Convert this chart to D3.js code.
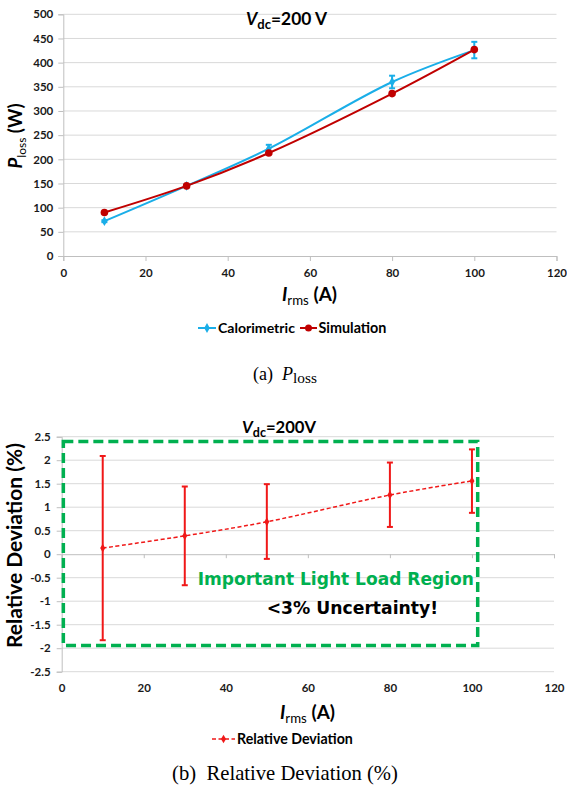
<!DOCTYPE html>
<html>
<head>
<meta charset="utf-8">
<script src="https://cdn.jsdelivr.net/npm/d3@7"></script>
<style>
  html, body { margin: 0; padding: 0; background: #fff; }
  svg { display: block; }
</style>
</head>
<body>
<svg id="chart" width="567" height="793"></svg>
<script>
// ---------- DATA ----------
const currents = [10, 30, 50, 80, 100];            // I_rms (A)
const calorimetric = [72, 145, 222, 360, 426];      // P_loss (W)
const calorimetricErr = [2, 3, 8, 13, 17];          // +/- (W)
const simulation = [90, 145, 213, 336, 427];        // P_loss (W)
const relDeviation = [0.13, 0.39, 0.69, 1.26, 1.56];       // %
const relErrLow = [-1.83, -0.66, -0.10, 0.58, 0.88];        // %
const relErrHigh = [2.09, 1.44, 1.49, 1.95, 2.23];          // %
const xTicks = [0, 20, 40, 60, 80, 100, 120];
const yTicksTop = [0, 50, 100, 150, 200, 250, 300, 350, 400, 450, 500];
const yTicksBottom = [-2.5, -2, -1.5, -1, -0.5, 0, 0.5, 1, 1.5, 2, 2.5];
const legendTop = ["Calorimetric", "Simulation"];
const legendBottom = ["Relative Deviation"];
const regionText = ["Important Light Load Region", "<3% Uncertainty!"];
const regionBox = {x0: 0.4, x1: 101.4, y0: -1.94, y1: 2.4};

// ---------- STYLE ----------
const SANS = "Lato, 'Open Sans', sans-serif";
const VERD = "'DejaVu Sans', Verdana, sans-serif";
const SERIF = "'Liberation Serif', 'DejaVu Serif', serif";
const cBlue = "#1AAEE8", cDark = "#C00000", cRed = "#F01818", cGreen = "#00B050";
const gridC = "#D9D9D9", axisC = "#BFBFBF", tickTxt = "#1a1a1a";

const svg = d3.select("#chart");

function fitWidth(sel, target) {
  const w = sel.node().getComputedTextLength();
  const fs = parseFloat(sel.attr("font-size"));
  sel.attr("font-size", fs * target / w);
}

// ================= TOP CHART =================
const xT = d3.scaleLinear().domain([0, 120]).range([63.3, 556.5]);
const yT = d3.scaleLinear().domain([0, 500]).range([256, 14.3]);
const gT = svg.append("g");

// gridlines
gT.selectAll(".grid").data(yTicksTop.filter(d => d > 0)).join("line")
  .attr("x1", xT(0)).attr("x2", xT(120))
  .attr("y1", d => yT(d)).attr("y2", d => yT(d))
  .attr("stroke", gridC).attr("stroke-width", 1);

// axes
const axLeftT = gT.append("g").attr("transform", `translate(${xT(0)},0)`)
  .call(d3.axisLeft(yT).tickValues(yTicksTop).tickSize(5).tickPadding(5));
const axBotT = gT.append("g").attr("transform", `translate(0,${yT(0)})`)
  .call(d3.axisBottom(xT).tickValues(xTicks).tickSize(5).tickPadding(8));
[axLeftT, axBotT].forEach(a => {
  a.select(".domain").attr("stroke", axisC);
  a.selectAll(".tick line").attr("stroke", axisC);
  a.selectAll("text").attr("font-family", SANS).attr("font-weight", "bold")
    .attr("font-size", 11.5).attr("fill", tickTxt);
});

// lines
const calPts = currents.map((c, i) => [c, calorimetric[i]]);
const simPts = currents.map((c, i) => [c, simulation[i]]);
const lineGen = d3.line().x(d => xT(d[0])).y(d => yT(d[1])).curve(d3.curveCatmullRom.alpha(0.5));
gT.append("path").attr("d", lineGen(calPts)).attr("fill", "none").attr("stroke", cBlue).attr("stroke-width", 2);
gT.append("path").attr("d", lineGen(simPts)).attr("fill", "none").attr("stroke", cDark).attr("stroke-width", 2);

// calorimetric error bars
const ebT = gT.selectAll(".ebT").data(currents.map((c, i) => ({c, lo: calorimetric[i] - calorimetricErr[i], hi: calorimetric[i] + calorimetricErr[i]})))
  .join("g").attr("stroke", cBlue).attr("stroke-width", 2);
ebT.append("line").attr("x1", d => xT(d.c)).attr("x2", d => xT(d.c)).attr("y1", d => yT(d.lo)).attr("y2", d => yT(d.hi));
ebT.append("line").attr("x1", d => xT(d.c) - 3).attr("x2", d => xT(d.c) + 3).attr("y1", d => yT(d.lo)).attr("y2", d => yT(d.lo));
ebT.append("line").attr("x1", d => xT(d.c) - 3).attr("x2", d => xT(d.c) + 3).attr("y1", d => yT(d.hi)).attr("y2", d => yT(d.hi));

// markers
const diamond = d3.symbol().type(d3.symbolDiamond).size(28);
gT.selectAll(".mc").data(calPts).join("path").attr("d", diamond)
  .attr("transform", d => `translate(${xT(d[0])},${yT(d[1])})`).attr("fill", cBlue);
gT.selectAll(".ms").data(simPts).join("circle")
  .attr("cx", d => xT(d[0])).attr("cy", d => yT(d[1])).attr("r", 3.8).attr("fill", cDark);

// title
const tT = svg.append("text").attr("x", 286.5).attr("y", 25).attr("text-anchor", "middle")
  .attr("font-family", SANS).attr("font-weight", "bold").attr("font-size", 16).attr("fill", "#000");
tT.append("tspan").attr("font-style", "italic").text("V");
tT.append("tspan").attr("font-size", "75%").attr("dy", 4).text("dc");
tT.append("tspan").attr("dy", -4).text("=200 V");
fitWidth(tT, 81);

// x label
const xlT = svg.append("text").attr("x", 309.5).attr("y", 301).attr("text-anchor", "middle")
  .attr("font-family", SANS).attr("font-weight", "bold").attr("font-size", 17).attr("fill", "#000");
xlT.append("tspan").attr("font-style", "italic").text("I");
xlT.append("tspan").attr("font-size", "70%").attr("font-weight", "normal").attr("dy", 4).text("rms");
xlT.append("tspan").attr("dy", -4).text(" (A)");
fitWidth(xlT, 55);

// y label
const ylT = svg.append("text").attr("transform", "translate(21.5,136) rotate(-90)").attr("text-anchor", "middle")
  .attr("font-family", SANS).attr("font-weight", "bold").attr("font-size", 19).attr("fill", "#000");
ylT.append("tspan").attr("font-style", "italic").text("P");
ylT.append("tspan").attr("font-size", "65%").attr("font-weight", "normal").attr("dy", 4).text("loss");
ylT.append("tspan").attr("dy", -4).text(" (W)");
fitWidth(ylT, 65);

// legend
const legT = svg.append("g");
const legItems = [
  {name: legendTop[0], x0: 198, x1: 216, tx: 218, tw: 77, color: cBlue, mark: "diamond"},
  {name: legendTop[1], x0: 300, x1: 317, tx: 318.5, tw: 68, color: cDark, mark: "circle"}
];
legItems.forEach(it => {
  legT.append("line").attr("x1", it.x0).attr("x2", it.x1).attr("y1", 328).attr("y2", 328)
    .attr("stroke", it.color).attr("stroke-width", 2);
  if (it.mark === "diamond") {
    legT.append("path").attr("d", diamond).attr("transform", `translate(${(it.x0 + it.x1) / 2},328)`).attr("fill", it.color);
  } else {
    legT.append("circle").attr("cx", (it.x0 + it.x1) / 2).attr("cy", 328).attr("r", 3.5).attr("fill", it.color);
  }
  const t = legT.append("text").attr("x", it.tx).attr("y", 332.5).attr("font-family", SANS)
    .attr("font-weight", "bold").attr("font-size", 13).attr("fill", "#000").text(it.name);
  fitWidth(t, it.tw);
});

// caption (a)
const capA = svg.append("text").attr("x", 285).attr("y", 380).attr("text-anchor", "middle")
  .attr("font-family", SERIF).attr("font-size", 18).attr("fill", "#000");
capA.append("tspan").text("(a)\u2002");
capA.append("tspan").attr("font-style", "italic").text("P");
capA.append("tspan").attr("font-size", "85%").attr("dy", 3).text("loss");
fitWidth(capA, 64);

// ================= BOTTOM CHART =================
const xB = d3.scaleLinear().domain([0, 120]).range([61.7, 554]);
const yB = d3.scaleLinear().domain([-2.5, 2.5]).range([671.7, 436.7]);
const gB = svg.append("g");

gB.selectAll(".gridB").data(yTicksBottom.filter(d => d !== 0)).join("line")
  .attr("x1", xB(0)).attr("x2", xB(120))
  .attr("y1", d => yB(d)).attr("y2", d => yB(d))
  .attr("stroke", gridC).attr("stroke-width", 1);

// left axis
const axLeftB = gB.append("g").attr("transform", `translate(${xB(0)},0)`)
  .call(d3.axisLeft(yB).tickValues(yTicksBottom).tickSize(5).tickPadding(6).tickFormat(d => String(d)));
// x axis on zero line (ticks only) + labels at bottom
const axZeroB = gB.append("g").attr("transform", `translate(0,${yB(0)})`)
  .call(d3.axisBottom(xB).tickValues(xTicks).tickSize(4).tickFormat(""));
const axLabB = gB.append("g").attr("transform", `translate(0,${yB(-2.5)})`)
  .call(d3.axisBottom(xB).tickValues(xTicks).tickSize(0).tickPadding(12));
axLabB.select(".domain").remove();
[axLeftB, axZeroB].forEach(a => {
  a.select(".domain").attr("stroke", axisC);
  a.selectAll(".tick line").attr("stroke", axisC);
});
[axLeftB, axLabB].forEach(a => {
  a.selectAll("text").attr("font-family", SANS).attr("font-weight", "bold")
    .attr("font-size", 11.5).attr("fill", tickTxt);
});

// green region box
gB.append("rect")
  .attr("x", xB(regionBox.x0)).attr("y", yB(regionBox.y1))
  .attr("width", xB(regionBox.x1) - xB(regionBox.x0)).attr("height", yB(regionBox.y0) - yB(regionBox.y1))
  .attr("fill", "none").attr("stroke", cGreen).attr("stroke-width", 3.5).attr("stroke-dasharray", "10,5");

// relative deviation line (dashed)
const relPts = currents.map((c, i) => [c, relDeviation[i]]);
const lineB = d3.line().x(d => xB(d[0])).y(d => yB(d[1])).curve(d3.curveCatmullRom.alpha(0.5));
gB.append("path").attr("d", lineB(relPts)).attr("fill", "none").attr("stroke", cRed)
  .attr("stroke-width", 1.5).attr("stroke-dasharray", "4,2.5");

// error bars
const ebB = gB.selectAll(".ebB").data(currents.map((c, i) => ({c, lo: relErrLow[i], hi: relErrHigh[i]})))
  .join("g").attr("stroke", cRed).attr("stroke-width", 2);
ebB.append("line").attr("x1", d => xB(d.c)).attr("x2", d => xB(d.c)).attr("y1", d => yB(d.lo)).attr("y2", d => yB(d.hi));
ebB.append("line").attr("x1", d => xB(d.c) - 3).attr("x2", d => xB(d.c) + 3).attr("y1", d => yB(d.lo)).attr("y2", d => yB(d.lo));
ebB.append("line").attr("x1", d => xB(d.c) - 3).attr("x2", d => xB(d.c) + 3).attr("y1", d => yB(d.hi)).attr("y2", d => yB(d.hi));

const diamondS = d3.symbol().type(d3.symbolDiamond).size(22);
gB.selectAll(".mr").data(relPts).join("path").attr("d", diamondS)
  .attr("transform", d => `translate(${xB(d[0])},${yB(d[1])})`).attr("fill", cRed);

// region texts
const rt1 = svg.append("text").attr("x", 197.7).attr("y", 585).attr("font-family", VERD)
  .attr("font-weight", "bold").attr("font-size", 18).attr("fill", cGreen).text(regionText[0]);
fitWidth(rt1, 276.6);
const rt2 = svg.append("text").attr("x", 266.7).attr("y", 614).attr("font-family", VERD)
  .attr("font-weight", "bold").attr("font-size", 18).attr("fill", "#000").text(regionText[1]);
fitWidth(rt2, 171.6);

// title bottom
const tB = svg.append("text").attr("x", 279).attr("y", 433).attr("text-anchor", "middle")
  .attr("font-family", SANS).attr("font-weight", "bold").attr("font-size", 16).attr("fill", "#000");
tB.append("tspan").attr("font-style", "italic").text("V");
tB.append("tspan").attr("font-size", "75%").attr("dy", 4).text("dc");
tB.append("tspan").attr("dy", -4).text("=200V");
fitWidth(tB, 74);

// x label bottom
const xlB = svg.append("text").attr("x", 307.5).attr("y", 719).attr("text-anchor", "middle")
  .attr("font-family", SANS).attr("font-weight", "bold").attr("font-size", 17).attr("fill", "#000");
xlB.append("tspan").attr("font-style", "italic").text("I");
xlB.append("tspan").attr("font-size", "70%").attr("font-weight", "normal").attr("dy", 4).text("rms");
xlB.append("tspan").attr("dy", -4).text(" (A)");
fitWidth(xlB, 55);

// y label bottom
const ylB = svg.append("text").attr("transform", "translate(22,545.5) rotate(-90)").attr("text-anchor", "middle")
  .attr("font-family", SANS).attr("font-weight", "bold").attr("font-size", 19).attr("fill", "#000")
  .text("Relative Deviation (%)");
fitWidth(ylB, 205);

// legend bottom
const legB = svg.append("g");
legB.append("line").attr("x1", 212).attr("x2", 235).attr("y1", 739).attr("y2", 739)
  .attr("stroke", cRed).attr("stroke-width", 1.5).attr("stroke-dasharray", "4,2.5");
legB.append("path").attr("d", diamondS).attr("transform", "translate(223.5,739)").attr("fill", cRed);
const lbT = legB.append("text").attr("x", 237).attr("y", 743.5).attr("font-family", SANS)
  .attr("font-weight", "bold").attr("font-size", 13).attr("fill", "#000").text(legendBottom[0]);
fitWidth(lbT, 116);

// caption (b)
const capB = svg.append("text").attr("x", 285).attr("y", 780).attr("text-anchor", "middle")
  .attr("font-family", SERIF).attr("font-size", 19).attr("fill", "#000")
  .text("(b)\u2002Relative Deviation (%)");
fitWidth(capB, 226);
</script>
</body>
</html>
